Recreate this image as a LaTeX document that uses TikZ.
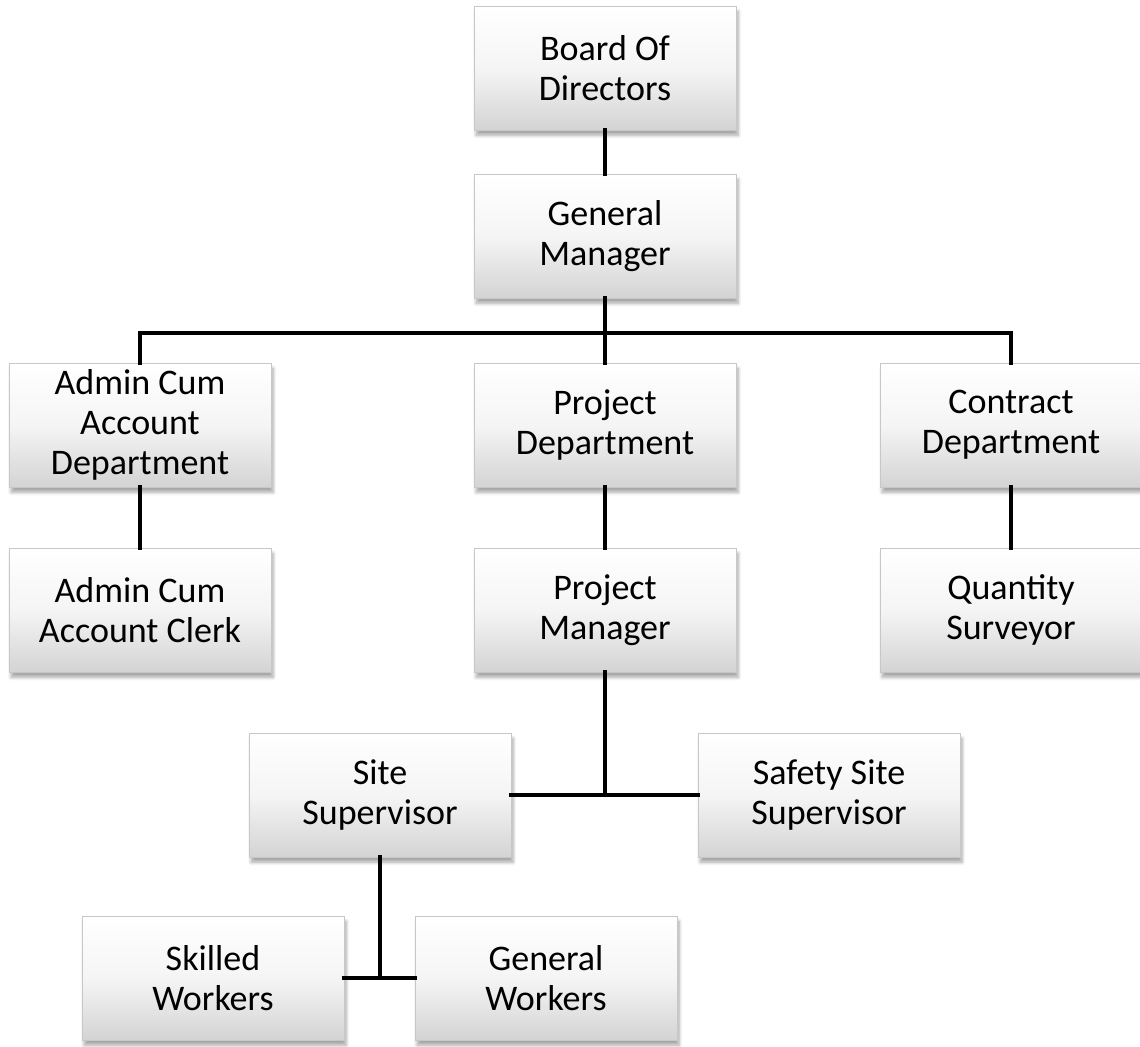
\documentclass[tikz,border=0pt]{standalone}
\usepackage{fontspec}
\setmainfont{Carlito}
\usetikzlibrary{shadows.blur}
\begin{document}
\begin{tikzpicture}[x=0.02cm,y=-0.02cm,
    post/.style={draw=black!22, line width=0.4pt,
      top color=white, bottom color=black!17, middle color=black!4,
      minimum width=5.24cm, minimum height=2.48cm, inner sep=0pt,
      align=center, font=\fontsize{20.5}{22.7}\selectfont,
      blur shadow={shadow xshift=1.2pt, shadow yshift=-3pt,
        shadow blur steps=6, shadow opacity=35}},
    link/.style={line width=2.8pt, line cap=rect}]

  \useasboundingbox (0,0) rectangle (1140,1046);

  %haut
  \node[post] (board) at (605,68) {Board Of\\Directors};
  \node[post] (gm) at (605,236) {General\\Manager};
  \coordinate (bus) at (605,333);

  %departements
  \node[post] (admin) at (140,425) {Admin Cum\\Account\\Department};
  \node[post] (projdept) at (605,425) {Project\\Department};
  \node[post] (contract) at (1011,425) {Contract\\Department};

  \node[post] (clerk) at (140,610) {Admin Cum\\Account Clerk};
  \node[post] (pm) at (605,610) {Project\\Manager};
  \node[post] (qs) at (1011,610) {Quantity\\Surveyor};

  %chantier
  \node[post] (site) at (380,795) {Site\\Supervisor};
  \node[post] (safety) at (829,795) {Safety Site\\Supervisor};

  \node[post] (skilled) at (213,978) {Skilled\\Workers};
  \node[post] (general) at (546,978) {General\\Workers};

  %liens
  \draw[link] (board.south) -- (gm.north);
  \draw[link] (gm.south) -- (projdept.north);
  \draw[link] (admin.north) |- (bus) -| (contract.north);
  \draw[link] (admin.south) -- (clerk.north);
  \draw[link] (projdept.south) -- (pm.north);
  \draw[link] (contract.south) -- (qs.north);
  \draw[link] (site.east) -- (safety.west);
  \draw[link] (pm.south) -- (pm |- site.east);
  \draw[link] (skilled.east) -- (general.west);
  \draw[link] (site.south) -- (site |- skilled.east);
\end{tikzpicture}
\end{document}
